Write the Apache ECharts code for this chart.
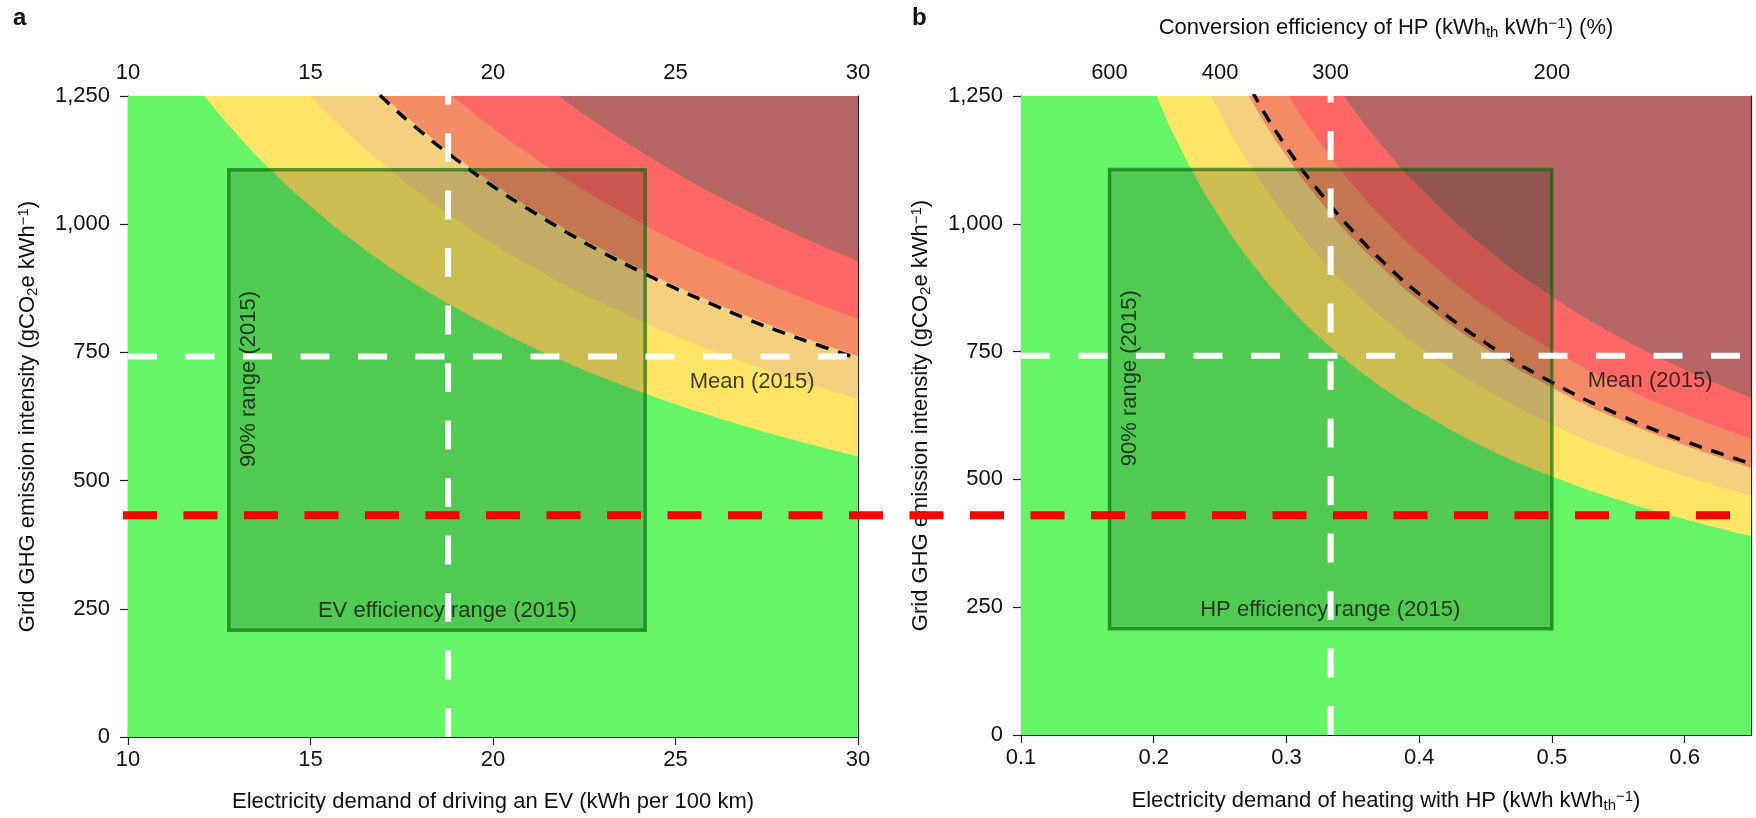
<!DOCTYPE html>
<html>
<head>
<meta charset="utf-8">
<script src="https://cdn.jsdelivr.net/npm/echarts@6/dist/echarts.min.js"></script>
<style>
html,body{margin:0;padding:0;background:#fff;}
#chart{width:1756px;height:818px;}
</style>
</head>
<body>
<div id="chart"></div>
<script>
// ---------- DATA ----------
// Panel a: EV electricity demand (kWh per 100 km)
const evX = [10,11,12,13,14,15,16,17,18,19,20,21,22,23,24,25,26,27,28,29,30];
const evGreenTop  = [1472,1357,1259,1174,1100,1035,977,925,878,836,798,763,731,701,674,649,626,604,584,565,547];
const evYellowTop = [1783,1643,1523,1420,1329,1250,1179,1117,1060,1009,962,920,881,846,813,782,754,728,703,681,659];
const evOrangeTop = [1976,1825,1695,1582,1484,1397,1319,1250,1188,1131,1080,1033,990,951,914,880,849,820,792,767,743];
const evSalmonTop = [2179,2011,1867,1743,1634,1537,1452,1375,1306,1244,1187,1136,1088,1045,1005,967,933,900,870,842,816];
const evRedTop    = [2497,2303,2136,1992,1866,1755,1657,1569,1490,1418,1353,1294,1240,1190,1144,1101,1061,1025,990,958,928];
const evMeanX     = [16,17,18,19,20,21,22,23,24,25,26,27,28,29,30];
const evMeanCurve = [1314,1245,1182,1126,1074,1028,985,945,909,875,844,814,787,762,738];
const evBox = {x0: 12.76, x1: 24.17, y0: 208, y1: 1106};
const evMeanDemand = 18.77;

// Panel b: HP electricity demand (kWh per kWh_th)
const hpX = [0.1,0.15,0.175,0.2,0.225,0.25,0.275,0.3,0.325,0.35,0.375,0.4,0.45,0.5,0.55,0.6,0.65];
const hpGreenTop  = [2530,1687,1446,1265,1124,1012,920,843,778,723,675,633,562,506,460,422,389];
const hpYellowTop = [3040,2027,1737,1520,1351,1216,1105,1013,935,869,811,760,676,608,553,507,468];
const hpOrangeTop = [3400,2267,1943,1700,1511,1360,1236,1133,1046,971,907,850,756,680,618,567,523];
const hpSalmonTop = [3770,2513,2154,1885,1676,1508,1371,1257,1160,1077,1005,943,838,754,685,628,580];
const hpRedTop    = [4290,2860,2451,2145,1907,1716,1560,1430,1320,1226,1144,1073,953,858,780,715,660];
const hpMeanX     = [0.25,0.275,0.3,0.325,0.35,0.375,0.4,0.45,0.5,0.55,0.6,0.65];
const hpMeanCurve = [1380,1255,1150,1062,986,920,863,767,690,627,575,531];
const hpBox = {x0: 0.1667, x1: 0.5, y0: 208, y1: 1106};
const hpMeanDemand = 0.3333;

const meanGridIntensity = 742;
const redLineIntensity = 435;

const yTicks = [0,250,500,750,1000,1250];
const evTicks = [10,15,20,25,30];
const hpTicks = [0.1,0.2,0.3,0.4,0.5,0.6];
const copTickLabels = [600,400,300,200]; // conversion efficiency (%)

const evNotes = [
  {name:'Mean (2015)', value:[27.1, 692]},
  {name:'EV efficiency range (2015)', value:[18.75, 245]},
  {name:'90% range (2015)', value:[13.31, 698], rot:90}
];
const hpNotes = [
  {name:'Mean (2015)', value:[0.574, 692]},
  {name:'HP efficiency range (2015)', value:[0.333, 245]},
  {name:'90% range (2015)', value:[0.1818, 698], rot:90}
];

// ---------- STYLE ----------
const FONT = "'Liberation Sans', Arial, Helvetica, sans-serif";
const C = {
  green:'#66f566', yellow:'#ffe566', orange:'#f4d07f', salmon:'#f58c66', red:'#ff6666', brown:'#b76666'
};
const richNames = {
  sub:{fontSize:15, fontFamily:FONT, color:'#111', padding:[9,0,0,0]},
  sup:{fontSize:15, fontFamily:FONT, color:'#111', padding:[0,0,9,0]}
};
const nameStyle = {fontSize:22, fontFamily:FONT, color:'#111', rich:richNames};
const labelStyle = {fontSize:22, fontFamily:FONT, color:'#111'};

const GRID_TOP = 96, GRID_H = 643, GRID_W = 730;

function pairs(xs, ys){ return xs.map((x,i)=>[x, ys[i]]); }

function bandSeries(gi, xs, arrs){
  const cols = [C.red, C.salmon, C.orange, C.yellow, C.green];
  return arrs.map((a,k)=>({
    type:'line', xAxisIndex:gi*2, yAxisIndex:gi*2, data:pairs(xs,a),
    smooth:0.5, symbol:'none', silent:true, clip:true,
    lineStyle:{width:0, color:cols[k]}, areaStyle:{color:cols[k], opacity:1},
    z:2
  }));
}

function panelOverlays(gi, meanXs, meanYs, box, meanDemand, notes, xExtent){
  const xi = gi*2, yi = gi*2;
  return [
    { type:'line', xAxisIndex:xi, yAxisIndex:yi, data:pairs(meanXs, meanYs), smooth:0.5,
      symbol:'none', silent:true, clip:true, z:3,
      lineStyle:{color:'#000', width:3.5, type:[13,10]} },
    { type:'line', xAxisIndex:xi, yAxisIndex:yi, data:[], symbol:'none', silent:true, z:4,
      markArea:{ silent:true, z:4,
        itemStyle:{color:'rgba(0,30,0,0.2)', borderColor:'rgba(0,100,0,0.62)', borderWidth:3.5},
        data:[[{coord:[box.x0, box.y1]},{coord:[box.x1, box.y0]}]] } },
    { type:'scatter', xAxisIndex:xi, yAxisIndex:yi, symbolSize:0, silent:true, z:5,
      data: notes.map(n=>({name:n.name, value:n.value, label:{rotate:n.rot||0}})),
      label:{show:true, position:'inside', formatter:'{b}', fontSize:22, fontFamily:FONT, color:'#111'} },
    { type:'line', xAxisIndex:xi, yAxisIndex:yi, data:[[meanDemand,0],[meanDemand,1250]], symbol:'none', silent:true, z:6,
      lineStyle:{color:'#fff', width:6, type:[29,28.5]} },
    { type:'line', xAxisIndex:xi, yAxisIndex:yi, data:[[xExtent[0],meanGridIntensity],[xExtent[1],meanGridIntensity]], symbol:'none', silent:true, z:6,
      lineStyle:{color:'#fff', width:6, type:[29,28.5]} }
  ];
}

const frameLine = {show:true, lineStyle:{color:'#222', width:1.2}};
const tick = {show:true, length:8, lineStyle:{color:'#222', width:1.2}};

const option = {
  backgroundColor:'#fff',
  animation:false,
  graphic:[
    {type:'text', left:13, top:6, style:{text:'a', font:"bold 24px "+FONT, fill:'#111'}},
    {type:'text', left:912, top:6, style:{text:'b', font:"bold 24px "+FONT, fill:'#111'}}
  ],
  grid:[
    {left:128, top:GRID_TOP, width:GRID_W, height:GRID_H, show:true, backgroundColor:C.brown, borderWidth:0},
    {left:1021, top:GRID_TOP, width:GRID_W, height:GRID_H, show:true, backgroundColor:C.brown, borderWidth:0},
    {left:123, top:GRID_TOP, width:1629, height:GRID_H, show:false}
  ],
  xAxis:[
    {type:'value', gridIndex:0, position:'bottom', min:10, max:30, interval:5,
     axisLine:frameLine, axisTick:tick, splitLine:{show:false},
     axisLabel:Object.assign({margin:12, customValues:evTicks}, labelStyle),
     name:'Electricity demand of driving an EV (kWh per 100 km)', nameLocation:'middle', nameGap:54, nameTextStyle:nameStyle},
    {type:'value', gridIndex:0, position:'top', min:10, max:30, interval:5,
     axisLine:frameLine, axisTick:tick, splitLine:{show:false},
     axisLabel:Object.assign({margin:12, customValues:evTicks}, labelStyle)},
    {type:'value', gridIndex:1, position:'bottom', min:0.1, max:0.65,
     axisLine:frameLine, axisTick:Object.assign({customValues:hpTicks}, tick), splitLine:{show:false},
     axisLabel:Object.assign({margin:12, customValues:hpTicks, formatter:v=>v.toFixed(1)}, labelStyle),
     name:'Electricity demand of heating with HP (kWh kWh{sub|th}{sup|−1})', nameLocation:'middle', nameGap:54, nameTextStyle:nameStyle},
    {type:'value', gridIndex:1, position:'top', min:0.1, max:0.65,
     axisLine:frameLine, axisTick:Object.assign({customValues:copTickLabels.map(p=>100/p)}, tick), splitLine:{show:false},
     axisLabel:Object.assign({margin:12, customValues:copTickLabels.map(p=>100/p), formatter:v=>String(Math.round(100/v))}, labelStyle),
     name:'Conversion efficiency of HP (kWh{sub|th} kWh{sup|−1}) (%)', nameLocation:'middle', nameGap:56, nameTextStyle:nameStyle},
    {type:'value', gridIndex:2, min:0, max:1, show:false}
  ],
  yAxis:[
    {type:'value', gridIndex:0, position:'left', min:0, max:1250, interval:250,
     axisLine:frameLine, axisTick:tick, splitLine:{show:false},
     axisLabel:Object.assign({margin:18, formatter:v=>v.toLocaleString('en-US')}, labelStyle),
     name:'Grid GHG emission intensity (gCO{sub|2}e kWh{sup|−1})', nameLocation:'middle', nameGap:88, nameTextStyle:nameStyle},
    {type:'value', gridIndex:0, position:'right', min:0, max:1250,
     axisLine:frameLine, axisTick:{show:false}, axisLabel:{show:false}, splitLine:{show:false}},
    {type:'value', gridIndex:1, position:'left', min:0, max:1250, interval:250,
     axisLine:frameLine, axisTick:tick, splitLine:{show:false},
     axisLabel:Object.assign({margin:18, formatter:v=>v.toLocaleString('en-US')}, labelStyle),
     name:'Grid GHG emission intensity (gCO{sub|2}e kWh{sup|−1})', nameLocation:'middle', nameGap:88, nameTextStyle:nameStyle},
    {type:'value', gridIndex:1, position:'right', min:0, max:1250,
     axisLine:frameLine, axisTick:{show:false}, axisLabel:{show:false}, splitLine:{show:false}},
    {type:'value', gridIndex:2, min:0, max:1250, show:false}
  ],
  series:[]
};

option.series.push(...bandSeries(0, evX, [evRedTop, evSalmonTop, evOrangeTop, evYellowTop, evGreenTop]));
option.series.push(...panelOverlays(0, evMeanX, evMeanCurve, evBox, evMeanDemand, evNotes, [10,30]));
option.series.push(...bandSeries(1, hpX, [hpRedTop, hpSalmonTop, hpOrangeTop, hpYellowTop, hpGreenTop]));
option.series.push(...panelOverlays(1, hpMeanX, hpMeanCurve, hpBox, hpMeanDemand, hpNotes, [0.1,0.65]));
option.series.push({
  type:'line', xAxisIndex:4, yAxisIndex:4, data:[[0,redLineIntensity],[1,redLineIntensity]],
  symbol:'none', silent:true, z:10, clip:false,
  lineStyle:{color:'#ff0000', width:8, type:[34,26.5]}
});

const chart = echarts.init(document.getElementById('chart'), null, {renderer:'canvas'});
chart.setOption(option);
</script>
</body>
</html>
